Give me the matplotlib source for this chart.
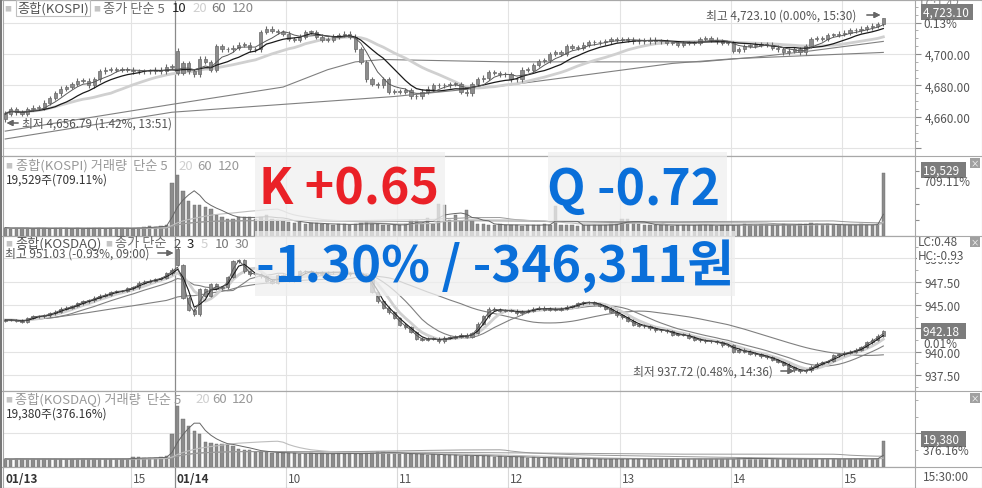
import numpy as np
import pandas as pd
import matplotlib
matplotlib.use('Agg')
import matplotlib.pyplot as plt
from matplotlib.patches import Rectangle
from matplotlib.ticker import MultipleLocator, FixedLocator, FuncFormatter

plt.rcParams['font.family'] = ['Noto Sans CJK KR', 'DejaVu Sans']

# 3-minute bars: 01/13 13:51 ~ 15:30, then 01/14 09:00 ~ 15:30
kospi_close = [
    4662, 4665, 4663, 4662, 4665, 4666, 4666, 4669, 4672, 4675,
    4678, 4679, 4681, 4683, 4683, 4680, 4684, 4689, 4690, 4690,
    4690, 4690, 4690, 4689, 4689, 4689, 4689, 4690, 4689, 4692,
    4692,
    # 01/14
    4688, 4694, 4689, 4687, 4697, 4695, 4690, 4705, 4703, 4703,
    4704, 4706, 4706, 4703, 4703, 4714, 4716, 4714.6, 4714, 4713,
    4709.5, 4709, 4711, 4714, 4714, 4711, 4709, 4709, 4711, 4712,
    4713, 4711, 4703, 4695, 4684, 4681, 4680, 4684, 4676, 4676,
    4676, 4677, 4673, 4673, 4676, 4678, 4680, 4680, 4680, 4681,
    4681, 4676, 4675, 4681, 4684, 4685, 4688.5, 4688, 4687, 4687,
    4684, 4684, 4690, 4690, 4693, 4695.5, 4696, 4700, 4701, 4700,
    4705, 4704, 4704, 4706, 4707.6, 4707.5, 4707.5, 4708, 4709.5, 4709,
    4709.5, 4709, 4708, 4708.5, 4708, 4709, 4708, 4708, 4707, 4707,
    4706, 4707, 4707, 4707, 4709.5, 4710, 4709, 4708, 4707, 4707,
    4702, 4703, 4705, 4705, 4706, 4706, 4706, 4704, 4703, 4701,
    4702, 4703, 4701, 4705, 4709.5, 4710, 4709.5, 4712, 4712, 4713,
    4713.5, 4715, 4715, 4716, 4717, 4718, 4719, 4723.1,
]
kospi_first_open = 4659.0
kospi_open_0114 = 4702.0
kospi_low = 4656.79
kospi_high = 4723.10

# long averages (bar index, value)
kospi_ma60_idx = [0, 30, 50, 58, 63, 68, 90, 125, 135, 145, 158]
kospi_ma60_val = [4651, 4668, 4679, 4690, 4695, 4696.5, 4695, 4695, 4698, 4702, 4708]
kospi_ma120_idx = [0, 30, 50, 70, 90, 120, 131, 158]
kospi_ma120_val = [4646, 4663, 4668, 4673, 4680, 4694, 4697, 4701]

kospi_vol = [
    2600, 2300, 2500, 2400, 2400, 2300, 2500, 2400, 2300, 2400,
    2500, 2400, 2300, 2400, 2300, 2400, 2500, 2400, 2300, 2400,
    2500, 2400, 2400, 2300, 2600, 2800, 3000, 2900, 3100, 3300,
    16500,
    19000, 14000, 11000, 9600, 9600, 9000, 8400, 6600, 6000, 5400,
    5400, 6000, 6000, 6000, 5400, 6000, 6600, 5400, 5000, 5000,
    4400, 4000, 4200, 3800, 4000, 3900, 3700, 3600, 3500, 3800,
    3600, 3500, 3700, 3900, 4200, 3800, 3600, 3500, 3400, 3500,
    3300, 3600, 5000, 5000, 3600, 5600, 3800, 9900, 9600, 5000,
    6600, 4500, 8100, 4500, 3800, 3600, 3500, 3400, 3600, 3300,
    3500, 3400, 3200, 3500, 3300, 3400, 3600, 3500, 9300, 3400,
    3300, 3500, 3200, 3400, 3300, 3500, 3400, 3300, 3600, 3800,
    5400, 5400, 4000, 3600, 3500, 3400, 3300, 3500, 3400, 3200,
    3300, 3500, 3400, 3300, 3500, 3400, 3300, 3200, 3400, 3500,
    3300, 3500, 3600, 3400, 3300, 3500, 3400, 3300, 3500, 3600,
    3400, 3500, 3700, 3600, 3900, 3800, 3500, 3600, 3400, 3500,
    3300, 3400, 3500, 3600, 3400, 3300, 3800, 19529,
]

kosdaq_close = [
    943.4, 943.4, 943.3, 943.2, 943.6, 943.8, 943.8, 943.9, 944.1, 944.3,
    944.6, 944.7, 944.9, 945.2, 945.4, 945.5, 945.8, 946.0, 946.1, 946.4,
    946.5, 946.5, 946.8, 946.9, 947.4, 947.5, 947.6, 947.8, 947.9, 948.4,
    948.8,
    949.3, 945.8, 944.5, 944.0, 946.7, 946.0, 947.2, 946.8, 946.9, 948.0,
    949.7, 949.8, 948.6, 948.3, 948.3, 948.1, 947.6, 947.4, 948.2, 948.0,
    947.6, 947.9, 948.6, 948.6, 948.5, 948.3, 948.5, 948.5, 948.5, 948.5,
    948.3, 948.4, 948.4, 948.2, 947.9, 946.4, 945.4, 944.7, 944.2, 943.6,
    942.9, 942.6, 942.1, 941.4, 941.3, 941.4, 941.4, 941.1, 941.5, 941.5,
    941.6, 941.8, 941.6, 942.0, 943.0, 943.8, 944.6, 944.5, 944.4, 944.4,
    944.4, 944.1, 944.3, 944.4, 944.6, 944.7, 944.5, 944.6, 944.5, 944.6,
    944.8, 944.9, 945.2, 945.3, 945.3, 945.1, 944.9, 944.6, 944.3, 943.9,
    943.7, 943.3, 942.9, 942.8, 942.7, 942.5, 942.3, 942.3, 942.2, 941.8,
    941.8, 941.8, 941.5, 941.3, 941.2, 941.1, 941.1, 941.0, 940.7, 940.7,
    940.0, 940.2, 940.0, 939.8, 939.7, 939.5, 939.4, 939.1, 938.9, 938.6,
    938.3, 938.0, 937.9, 938.0, 938.4, 938.7, 938.9, 939.0, 939.6, 939.7,
    939.9, 940.0, 940.2, 940.5, 941.0, 941.3, 941.7, 942.18,
]
kosdaq_first_open = 943.3
kosdaq_open_0114 = 951.03
kosdaq_low = 937.72
kosdaq_low_bar = 143

kosdaq_vol = [
    6000, 5800, 6200, 6000, 5800, 6100, 6000, 5700, 6000, 5900,
    6100, 5800, 6000, 5900, 6200, 6000, 5800, 6100, 5900, 6000,
    6200, 6000, 5900, 7500, 7200, 6800, 7000, 6500, 7400, 8000,
    24600,
    45500, 35800, 30500, 26800, 24600, 18600, 17900, 17100, 16800, 16400,
    16000, 13400, 12700, 12700, 11200, 11200, 10800, 10500, 10600, 10400,
    10500, 10200, 9800, 10000, 10300, 9700, 10100, 9900, 10000, 10400,
    9800, 10200, 10000, 9700, 10300, 10600, 11000, 10800, 10500, 10200,
    10000, 9800, 9600, 9900, 9400, 9200, 9500, 9000, 8800, 9100,
    8700, 8500, 8800, 8400, 8200, 8500, 8000, 7800, 8100, 7600,
    7400, 7700, 7300, 7000, 7200, 6900, 6700, 7000, 6600, 6400,
    6700, 6300, 6000, 6200, 5800, 6100, 5900, 6000, 6300, 5800,
    6000, 6200, 5900, 6100, 5800, 6000, 6200, 5900, 6000, 6100,
    5800, 6000, 6300, 5900, 6100, 6000, 5800, 6200, 5900, 6000,
    6100, 6500, 6800, 6400, 6200, 6000, 6300, 6100, 5900, 6200,
    6000, 6100, 5800, 6000, 6300, 6100, 5900, 6000, 6200, 5800,
    6100, 6000, 6300, 5900, 6000, 6200, 6100, 19380,
]

day_break = 31                      # first bar of 01/14
hour_idx = [23, 51, 71, 91, 111, 131, 151]
hour_lbl = ['15', '10', '11', '12', '13', '14', '15']

W, H = 982, 489
XMIN, XMAX = -0.4, 163.7
GRID = '#e3e3e3'
CANDLE = '#8c8c8c'
EDGE = '#6a6a6a'
RED = '#ea2127'
BLUE = '#0a6fd9'


def rect(x0, y0, x1, y1):
    return [x0 / W, 1 - y1 / H, (x1 - x0) / W, (y1 - y0) / H]


def fx(px):
    return px / W


def fy(py):
    return 1 - py / H


def sma(v, n):
    return pd.Series(v).rolling(n, min_periods=1).mean().to_numpy()


def ohlc(close, first_open, gap_open, wick):
    c = np.array(close, dtype=float)
    o = np.r_[first_open, c[:-1]]
    o[day_break] = gap_open
    h = np.maximum(o, c) + wick
    l = np.minimum(o, c) - wick
    return o, h, l, c


def candles(ax, o, h, l, c, min_h):
    x = np.arange(len(c))
    ax.vlines(x, l, h, color=EDGE, lw=0.8, zorder=4)
    body = np.maximum(np.abs(c - o), min_h)
    ax.bar(x, body, bottom=np.minimum(o, c), width=0.58, color=CANDLE,
           edgecolor=EDGE, lw=0.5, zorder=5)


fig = plt.figure(figsize=(W / 100, H / 100), dpi=100)


def panel(y0, y1):
    ax = fig.add_axes(rect(3, y0, 915, y1))
    ax.set_xlim(XMIN, XMAX)
    ax.set_xticks([])
    for s in ax.spines.values():
        s.set_color('#a8a8a8')
        s.set_linewidth(0.8)
    ax.yaxis.tick_right()
    ax.tick_params(axis='y', which='major', direction='out', length=4, pad=3,
                   colors='#8c8c8c', labelcolor='#555555', labelsize=8.5)
    ax.tick_params(axis='y', which='minor', direction='out', length=2, colors='#a0a0a0')
    for xg in hour_idx:
        ax.axvline(xg - 0.45, color=GRID, lw=0.8, zorder=0)
    ax.axvline(day_break - 0.45, color='#8a8a8a', lw=0.9, zorder=1)
    return ax


x = np.arange(len(kospi_close))

# ---- KOSPI price ----
ax1 = panel(1, 157)
o, h, l, c = ohlc(kospi_close, kospi_first_open, kospi_open_0114, 1.5)
l[0] = kospi_low
h[-1] = kospi_high
ax1.set_ylim(4635.2, 4734.3)
for g in [4640, 4660, 4680, 4700, 4720]:
    ax1.axhline(g, color=GRID, lw=0.8, zorder=0)
ax1.plot(kospi_ma120_idx, kospi_ma120_val, color='#808080', lw=0.8, zorder=2)
ax1.plot(kospi_ma60_idx, kospi_ma60_val, color='#808080', lw=0.8, zorder=2)
ax1.plot(x, sma(c, 20), color='#d0d0d0', lw=2.0, zorder=2)
candles(ax1, o, h, l, c, 0.4)
ax1.plot(x, sma(c, 10), color='#1a1a1a', lw=0.9, zorder=6)
ax1.plot(x, sma(c, 5), color='#5a5a5a', lw=0.7, zorder=6)
ax1.yaxis.set_major_locator(FixedLocator([4640, 4660, 4680, 4700, 4720]))
ax1.yaxis.set_minor_locator(MultipleLocator(5))
ax1.yaxis.set_major_formatter(FuncFormatter(
    lambda v, p: f'{v:,.2f}' if 4650 < v < 4710 else ''))

# ---- KOSPI volume ----
ax2 = panel(157, 237)
v = np.array(kospi_vol, dtype=float)
ax2.set_ylim(0, 24800)
ax2.bar(x, v, width=0.6, color=CANDLE, edgecolor=EDGE, lw=0.3, zorder=3)
ax2.plot(x, sma(v, 120), color='#9a9a9a', lw=0.7, zorder=4)
ax2.plot(x, sma(v, 60), color='#9a9a9a', lw=0.7, zorder=4)
ax2.plot(x, sma(v, 20), color='#bdbdbd', lw=0.8, zorder=4)
ax2.plot(x, sma(v, 5), color='#666666', lw=0.7, zorder=4)
ax2.yaxis.set_major_locator(MultipleLocator(5000))
ax2.yaxis.set_major_formatter(FuncFormatter(lambda v, p: ''))
ax2.tick_params(axis='y', which='major', length=3)

# ---- KOSDAQ price ----
ax3 = panel(237, 392)
o, h, l, c = ohlc(kosdaq_close, kosdaq_first_open, kosdaq_open_0114, 0.15)
l[kosdaq_low_bar] = kosdaq_low
ax3.set_ylim(935.78, 952.40)
for g in [937.5, 940, 942.5, 945, 947.5, 950]:
    ax3.axhline(g, color=GRID, lw=0.8, zorder=0)
ax3.plot(x, sma(c, 30), color='#808080', lw=0.8, zorder=2)
ax3.plot(x, sma(c, 10), color='#808080', lw=0.8, zorder=2)
ax3.plot(x, sma(c, 5), color='#d0d0d0', lw=2.0, zorder=2)
candles(ax3, o, h, l, c, 0.04)
ax3.plot(x, sma(c, 3), color='#1a1a1a', lw=0.8, zorder=6)
ax3.plot(x, sma(c, 2), color='#5a5a5a', lw=0.7, zorder=6)
ax3.yaxis.set_major_locator(MultipleLocator(2.5))
ax3.yaxis.set_minor_locator(MultipleLocator(1.25))
ax3.yaxis.set_major_formatter(FuncFormatter(lambda v, p: f'{v:,.2f}'))

# ---- KOSDAQ volume ----
ax4 = panel(392, 468)
v = np.array(kosdaq_vol, dtype=float)
ax4.set_ylim(0, 56600)
ax4.axhline(25000, color=GRID, lw=0.8, zorder=0)
ax4.bar(x, v, width=0.6, color=CANDLE, edgecolor=EDGE, lw=0.3, zorder=3)
ax4.plot(x, sma(v, 120), color='#9a9a9a', lw=0.7, zorder=4)
ax4.plot(x, sma(v, 60), color='#9a9a9a', lw=0.7, zorder=4)
ax4.plot(x, sma(v, 20), color='#bdbdbd', lw=0.8, zorder=4)
ax4.plot(x, sma(v, 5), color='#666666', lw=0.7, zorder=4)
ax4.yaxis.set_major_locator(FixedLocator([25000]))
ax4.yaxis.set_minor_locator(MultipleLocator(12500))
ax4.yaxis.set_major_formatter(FuncFormatter(lambda v, p: f'{v:,.0f}'))

# ---- time strip ----
axt = fig.add_axes(rect(3, 468, 915, 489))
axt.set_xlim(XMIN, XMAX)
axt.set_ylim(0, 1)
axt.set_xticks([])
axt.set_yticks([])
for s in axt.spines.values():
    s.set_color('#a8a8a8')
    s.set_linewidth(0.8)
for xg, lb in zip(hour_idx, hour_lbl):
    axt.axvline(xg - 0.45, color='#d8d8d8', lw=0.8)
    axt.text(xg - 0.1, 0.45, lb, fontsize=8.5, color='#555555', va='center')
axt.axvline(day_break - 0.45, color='#8a8a8a', lw=0.9)
axt.text(0.1, 0.45, '01/13', fontsize=8.5, fontweight='bold', color='#333333', va='center')
axt.text(day_break - 0.1, 0.45, '01/14', fontsize=8.5, fontweight='bold', color='#333333', va='center')

# frame lines across the right column
for yy in [0.5, 157, 237, 392, 468, 488.5]:
    fig.add_artist(plt.Line2D([0, 1], [fy(yy), fy(yy)], color='#a8a8a8', lw=0.8))
fig.add_artist(plt.Line2D([fx(1), fx(1)], [0, 1], color='#777777', lw=1.5))
fig.add_artist(plt.Line2D([fx(981.5), fx(981.5)], [0, 1], color='#a8a8a8', lw=0.8))


def t(px, py, s, **kw):
    kw.setdefault('fontsize', 8.5)
    kw.setdefault('color', '#555555')
    kw.setdefault('va', 'center')
    fig.text(fx(px), fy(py), s, **kw)


LG = 9.5   # legend text size

# legends
t(4, 9, '■', fontsize=5, color='#c4c4c4')
t(17, 9, '종합(KOSPI)', fontsize=LG,
  bbox=dict(boxstyle='square,pad=0.1', fc='none', ec='#c0c0c0', lw=0.8))
t(93, 9, '■', fontsize=5, color='#c4c4c4')
t(103, 9, '종가 단순 5', fontsize=LG, color='#6a6a6a')
t(172, 9, '10', fontsize=LG, color='#222222')
t(192, 9, '20', fontsize=LG, color='#cfcfcf')
t(211, 9, '60', fontsize=LG, color='#777777')
t(232, 9, '120', fontsize=LG, color='#888888')

t(5, 166, '■', fontsize=5, color='#c4c4c4')
t(16, 166, '종합(KOSPI) 거래량  단순 5', fontsize=LG, color='#999999')
t(178, 166, '20', fontsize=LG, color='#cfcfcf')
t(197, 166, '60', fontsize=LG, color='#999999')
t(218, 166, '120', fontsize=LG, color='#999999')
t(6, 180, '19,529주(709.11%)', color='#333333')

t(5, 244, '■', fontsize=5, color='#c4c4c4')
t(15, 244, '종합(KOSDAQ)', fontsize=LG, color='#555555')
t(105, 244, '■', fontsize=5, color='#c4c4c4')
t(115, 244, '종가 단순', fontsize=LG, color='#6a6a6a')
t(173, 244, '2', fontsize=LG, color='#555555')
t(187, 244, '3', fontsize=LG, color='#222222')
t(201, 244, '5', fontsize=LG, color='#cfcfcf')
t(215, 244, '10', fontsize=LG, color='#777777')
t(235, 244, '30', fontsize=LG, color='#888888')

t(5, 400, '■', fontsize=5, color='#c4c4c4')
t(15, 400, '종합(KOSDAQ) 거래량  단순 5', fontsize=LG, color='#999999')
t(195, 400, '20', fontsize=LG, color='#cfcfcf')
t(212, 400, '60', fontsize=LG, color='#999999')
t(232, 400, '120', fontsize=LG, color='#999999')
t(6, 414, '19,380주(376.16%)', color='#333333')

# high / low marks
arrow = dict(arrowstyle='-|>', color='#666666', lw=0.8, mutation_scale=9)
t(706, 16, '최고 4,723.10 (0.00%, 15:30)')
fig.add_artist(plt.annotate('', xy=(fx(883), fy(16)), xytext=(fx(864), fy(16)),
                            xycoords='figure fraction', arrowprops=arrow))
t(22, 124, '최저 4,656.79 (1.42%, 13:51)')
fig.add_artist(plt.annotate('', xy=(fx(4), fy(124)), xytext=(fx(21), fy(124)),
                            xycoords='figure fraction', arrowprops=arrow))
t(5, 254, '최고 951.03 (-0.93%, 09:00)')
fig.add_artist(plt.annotate('', xy=(fx(176), fy(254)), xytext=(fx(155), fy(254)),
                            xycoords='figure fraction', arrowprops=arrow))
t(633, 372, '최저 937.72 (0.48%, 14:36)')
fig.add_artist(plt.annotate('', xy=(fx(797), fy(372)), xytext=(fx(778), fy(372)),
                            xycoords='figure fraction', arrowprops=arrow))

# right-hand labels
box = dict(boxstyle='square,pad=0.15', fc='#7c7c7c', ec='none')
t(920, 4, 'LC:1.42', color='#888888')
t(923, 13, '4,723.10 ', color='white', bbox=box)
t(923, 25, '0.13%')
t(923, 171, '19,529  ', color='white', bbox=box)
t(923, 183, '709.11%')
t(918, 243, 'LC:0.48')
t(918, 256, 'HC:-0.93', bbox=dict(boxstyle='square,pad=0.05', fc='white', ec='none'))
t(923, 332, '942.18  ', color='white', bbox=box)
t(923, 345, '0.01%')
t(923, 440, '19,380  ', color='white', bbox=box)
t(923, 452, '376.16%')
t(923, 478, '15:30:00')
for yy in [164, 243, 399]:
    t(975, yy, '×', fontsize=6, color='white', ha='center',
      bbox=dict(boxstyle='square,pad=0.1', fc='#a0a0a0', ec='none'))

# overlay summary
for (x0, y0, x1, y1) in [(255, 153, 445, 222), (548, 153, 727, 222), (255, 232, 735, 297)]:
    fig.add_artist(Rectangle((fx(x0), fy(y1)), (x1 - x0) / W, (y1 - y0) / H,
                             transform=fig.transFigure, fc='#efefef', ec='none',
                             alpha=0.75, zorder=8))
fig.text(fx(259), fy(205), 'K +0.65', color=RED, fontsize=36, fontweight='bold',
         va='baseline', zorder=9)
fig.text(fx(547), fy(205), 'Q -0.72', color=BLUE, fontsize=36, fontweight='bold',
         va='baseline', zorder=9)
fig.text(fx(256), fy(282), '-1.30% / -346,311원', color=BLUE, fontsize=36.5,
         fontweight='bold', va='baseline', zorder=9)

fig.savefig('out.png', dpi=100)
